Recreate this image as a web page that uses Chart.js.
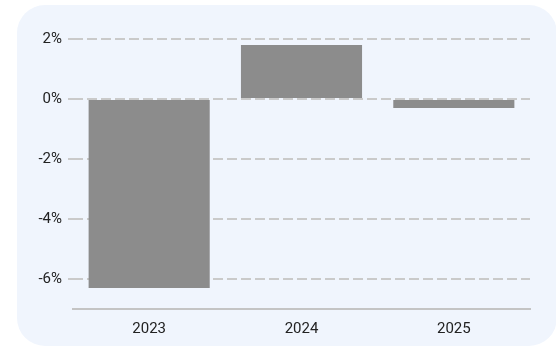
<!DOCTYPE html>
<html><head><meta charset="utf-8">
<script src="https://cdn.jsdelivr.net/npm/chart.js@4"></script>
<style>
html,body{margin:0;padding:0;background:#ffffff;overflow:hidden;}
#card{position:absolute;left:17px;top:5px;width:540px;height:341px;background:#f0f5fd;border-radius:28px;}
#wrap{position:absolute;left:0;top:0;width:556px;height:347px;}
</style></head>
<body>
<div id="card"></div>
<div id="wrap"><canvas id="c" width="556" height="347"></canvas></div>
<script>
const categories = ["2023", "2024", "2025"];
const values = [-6.3, 1.8, -0.3];
const yTicks = [2, 0, -2, -4, -6];

new Chart(document.getElementById('c'), {
  type: 'bar',
  data: {
    labels: categories,
    datasets: [{
      data: values,
      backgroundColor: '#8c8c8c',
      borderWidth: 0,
      categoryPercentage: 1,
      barPercentage: 0.795
    }]
  },
  options: {
    responsive: false,
    animation: false,
    layout: { padding: { left: 18, right: 26, top: 39, bottom: 0 } },
    plugins: { legend: { display: false }, tooltip: { enabled: false } },
    scales: {
      x: {
        grid: { display: false },
        border: { display: true, color: '#c4c4c4', width: 2 },
        ticks: { color: '#222', font: { family: 'Roboto', size: 15 }, padding: 3 },
        afterFit: s => { s.height = 38; }
      },
      y: {
        min: -7, max: 2,
        afterBuildTicks: s => { s.ticks = yTicks.map(v => ({ value: v })); },
        grid: { color: '#cacaca', lineWidth: 2, tickLength: 5 },
        border: { display: false, dash: [10, 4] },
        ticks: { color: '#222', font: { family: 'Roboto', size: 15 }, padding: 6,
          callback: v => v + '%' },
        afterFit: s => { s.width = 55; }
      }
    }
  }
});
</script>
</body></html>
